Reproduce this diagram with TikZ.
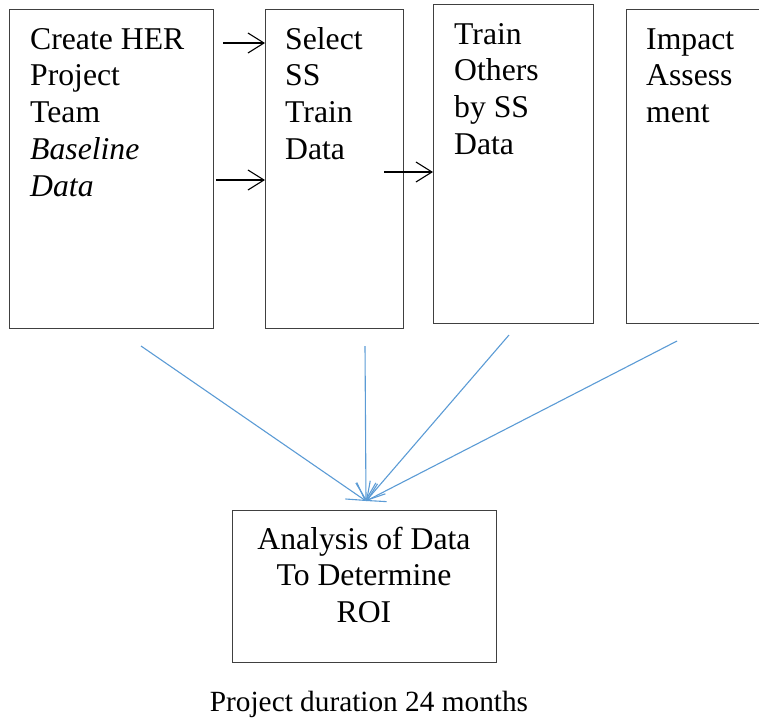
\documentclass[tikz,border=0pt]{standalone}
\usepackage{fontspec}
\setmainfont{Liberation Serif}
\usetikzlibrary{arrows.meta}
\definecolor{boxline}{RGB}{64,64,64}
\definecolor{flowblue}{RGB}{91,155,213}
\begin{document}
\begin{tikzpicture}[x=1pt,y=-1pt,
  procbox/.style={draw=boxline,line width=1.4pt,rectangle,inner sep=0pt},
  boxtext/.style={inner sep=0pt,anchor=base west,font=\fontsize{31.7}{36.8}\selectfont},
  blackarrow/.style={draw=black,line width=1.1pt,-{Straight Barb[length=16pt,width=20pt,line width=1.1pt]}},
  bluearrow/.style={draw=flowblue,line width=1.1pt,-{Straight Barb[length=17pt,width=20pt,line width=1.1pt]}}]
\useasboundingbox (0,0) rectangle (759,721);
\clip (0,0) rectangle (759,721);
% boxes
\node[procbox,minimum width=204pt,minimum height=319pt,anchor=north west] (b1) at (9,9) {};
\node[procbox,minimum width=138pt,minimum height=319pt,anchor=north west] (b2) at (265,9) {};
\node[procbox,minimum width=160pt,minimum height=319pt,anchor=north west] (b3) at (433,4) {};
\node[procbox,minimum width=200pt,minimum height=314pt,anchor=north west] (b4) at (626,9) {};
\node[procbox,minimum width=264pt,minimum height=152pt,anchor=north west] (b5) at (232,510) {};
% texts
\node[boxtext] (t1) at (30,49) {\begin{tabular}[t]{@{}l@{}}Create HER\\Project\\Team\\\textit{Baseline}\\\textit{Data}\end{tabular}};
\node[boxtext] (t2) at (285,49) {\begin{tabular}[t]{@{}l@{}}Select\\SS\\Train\\Data\end{tabular}};
\node[boxtext] (t3) at (454,44) {\begin{tabular}[t]{@{}l@{}}Train\\Others\\by SS\\Data\end{tabular}};
\node[boxtext] (t4) at (646,49) {\begin{tabular}[t]{@{}l@{}}Impact\\Assess\\ment\end{tabular}};
\node[boxtext,anchor=base] (t5) at (364,549) {\begin{tabular}[t]{@{}c@{}}Analysis of Data\\To Determine\\ROI\end{tabular}};
\node[inner sep=0pt,anchor=base,font=\fontsize{29.3}{34}\selectfont] (cap) at (369,711) {Project duration 24 months};
% black arrows
\coordinate (a1s) at (223,43);
\coordinate (a2s) at (216,180);
\coordinate (a3s) at (384,172);
\draw[blackarrow] (a1s) -- (a1s -| b2.west);
\draw[blackarrow] (a2s) -- (a2s -| b2.west);
\draw[blackarrow] (a3s) -- (a3s -| b3.west);
% blue arrows
\coordinate (conv) at (366,501);
\coordinate (l1s) at (141,346);
\coordinate (l2s) at (365,346);
\coordinate (l3s) at (509,335);
\coordinate (l4s) at (677,341);
\draw[bluearrow] (l1s) -- (conv);
\draw[bluearrow] (l2s) -- (conv);
\draw[bluearrow] (l3s) -- (conv);
\draw[bluearrow] (l4s) -- (conv);
\end{tikzpicture}
\end{document}
